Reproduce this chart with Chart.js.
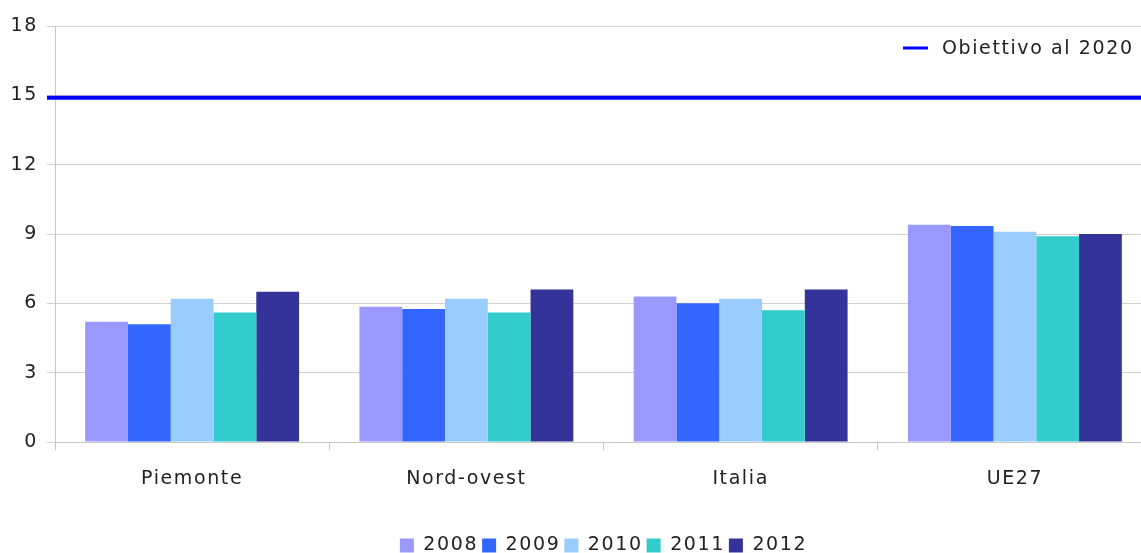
<!DOCTYPE html>
<html>
<head>
<meta charset="utf-8">
<script src="https://cdn.jsdelivr.net/npm/chart.js@4"></script>
<style>
  html, body { margin: 0; padding: 0; background: #fff; overflow: hidden; }
  #wrap { width: 1152px; height: 565px; }
</style>
</head>
<body>
<div id="wrap"><canvas id="chart"></canvas></div>
<script>
// data
const categories = ["Piemonte", "Nord-ovest", "Italia", "UE27"];
const years = ["2008", "2009", "2010", "2011", "2012"];
const v2008 = [5.2, 5.85, 6.3, 9.4];
const v2009 = [5.1, 5.75, 6.0, 9.35];
const v2010 = [6.2, 6.2, 6.2, 9.1];
const v2011 = [5.6, 5.6, 5.7, 8.9];
const v2012 = [6.5, 6.6, 6.6, 9.0];
const targetLabel = "Obiettivo al 2020";
const targetValue = 14.9;
const yTicks = [0, 3, 6, 9, 12, 15, 18];

const colors = ["#9999FF", "#3366FF", "#99CCFF", "#33CCCC", "#333399"];
const series = [v2008, v2009, v2010, v2011, v2012];
const FONT = "'DejaVu Sans', sans-serif";
const SPACING = "1.6px";

// wide, airy lettering like the original
const spacing = {
  id: "spacing",
  beforeLayout(chart) { chart.ctx.letterSpacing = SPACING; },
  beforeDraw(chart) { chart.ctx.letterSpacing = SPACING; }
};

// target line across the whole plot + its own legend entry top right
const targetLine = {
  id: "targetLine",
  afterDatasetsDraw(chart) {
    const ctx = chart.ctx;
    const area = chart.chartArea;
    const y = chart.scales.y.getPixelForValue(targetValue);
    ctx.save();
    ctx.strokeStyle = "#0000FF";
    ctx.lineWidth = 4;
    ctx.beginPath();
    ctx.moveTo(area.left - 8, y);
    ctx.lineTo(area.right, y);
    ctx.stroke();

    const ly = area.top + 22;
    ctx.lineWidth = 3;
    ctx.beginPath();
    ctx.moveTo(903, ly);
    ctx.lineTo(928, ly);
    ctx.stroke();
    ctx.fillStyle = "#222";
    ctx.font = "19px " + FONT;
    ctx.textBaseline = "middle";
    ctx.fillText(targetLabel, 942, ly + 1);
    ctx.restore();
  }
};

const datasets = years.map((yr, i) => ({
  label: yr,
  data: series[i],
  backgroundColor: colors[i],
  borderWidth: 0,
  categoryPercentage: 0.78,
  barPercentage: 1
}));

new Chart(document.getElementById("chart"), {
  type: "bar",
  data: { labels: categories, datasets },
  options: {
    responsive: true,
    maintainAspectRatio: false,
    animation: false,
    layout: { padding: { top: 26, right: 0, left: 0, bottom: 0 } },
    plugins: {
      tooltip: { enabled: false },
      legend: {
        position: "bottom",
        fullSize: false,
        labels: {
          color: "#222",
          font: { family: FONT, size: 19 },
          boxWidth: 14,
          boxHeight: 14,
          padding: 4
        }
      }
    },
    scales: {
      x: {
        ticks: { color: "#222", font: { family: FONT, size: 19 }, padding: 18 },
        grid: { offset: true, drawOnChartArea: false, tickLength: 8, color: "#c8c8c8" },
        border: { color: "#c8c8c8" },
        afterFit: (s) => { s.height = 90; }
      },
      y: {
        min: 0,
        max: 18,
        afterBuildTicks: (s) => { s.ticks = yTicks.map(v => ({ value: v })); },
        ticks: { color: "#222", font: { family: FONT, size: 19 }, padding: 9 },
        grid: { color: "#d0d0d0", tickLength: 8 },
        border: { color: "#c8c8c8" },
        afterFit: (s) => { s.width = 55; }
      }
    }
  },
  plugins: [spacing, targetLine]
});
</script>
</body>
</html>
